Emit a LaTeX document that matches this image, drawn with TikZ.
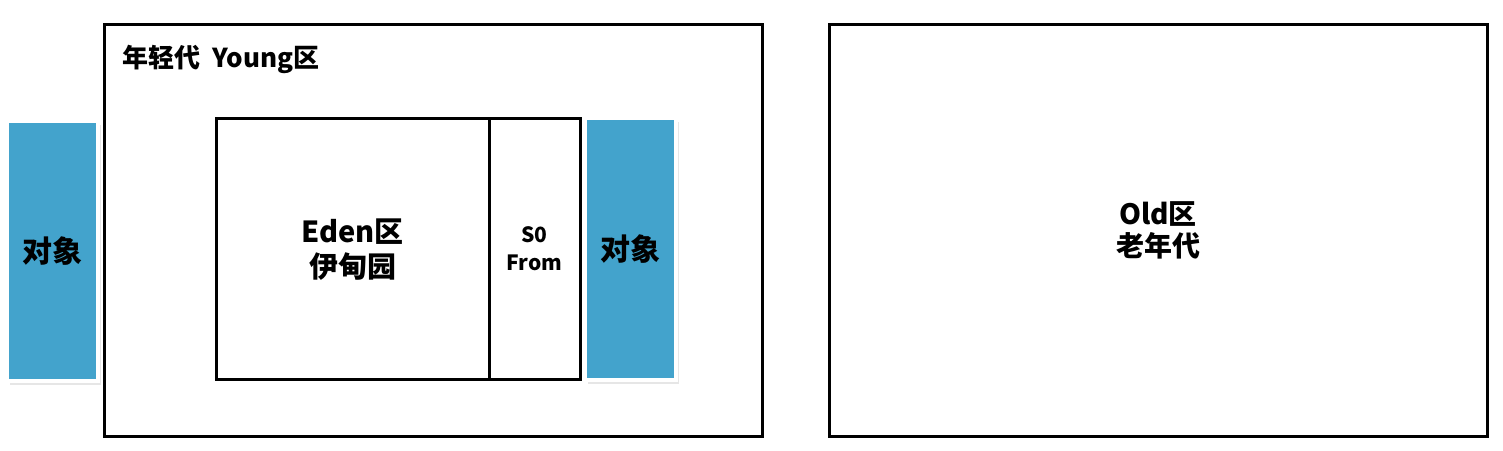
\documentclass[tikz,border=0pt]{standalone}
\usepackage{fontspec}
\setmainfont{Noto Sans CJK SC}
\usetikzlibrary{positioning,shadows}
\definecolor{objblue}{HTML}{43A3CC}

\begin{document}
\begin{tikzpicture}[x=1pt, y=-1pt, font=\bfseries,
  region/.style={draw, line width=3pt, inner sep=0pt, outer sep=0pt},
  obj/.style={fill=objblue, draw=white, line width=4pt, inner sep=0pt,
    minimum width=91pt, drop shadow={shadow xshift=3pt, shadow yshift=-4pt, opacity=0.2},
    font=\bfseries\fontsize{30}{30}\selectfont},
  label/.style={align=center}]
  \useasboundingbox (0,0) rectangle (1503,450);

  % young and old generation
  \node[region, minimum width=658pt, minimum height=412pt, anchor=north west] (young) at (104,24) {};
  \node[region, minimum width=658pt, minimum height=412pt, anchor=north west] (old) at (829,24) {};
  \node[anchor=west, font=\bfseries\fontsize{26}{26}\selectfont] (youngtitle) at (119,59) {年轻代\ \ Young区};
  \node[label, font=\bfseries\fontsize{28}{32}\selectfont] (oldtext) at (old.center) {Old区\\老年代};

  % eden and survivor
  \node[region, minimum width=273pt, minimum height=261pt, anchor=north west] (eden) at (216,118) {};
  \node[region, minimum width=91pt, minimum height=261pt, right=0pt of eden] (s0) {};
  \node[label, font=\bfseries\fontsize{29}{35}\selectfont] (edentext) at ([yshift=-1pt]eden.center) {Eden区\\伊甸园};
  \node[label, font=\bfseries\fontsize{21}{28}\selectfont] (s0text) at (s0.center) {S0\\From};

  % objects
  \node[obj, minimum height=260pt, anchor=north west] (objleft) at (5,119) {对象};
  \node[obj, minimum height=262pt, anchor=north west] (objright) at (583,116) {对象};
\end{tikzpicture}
\end{document}
